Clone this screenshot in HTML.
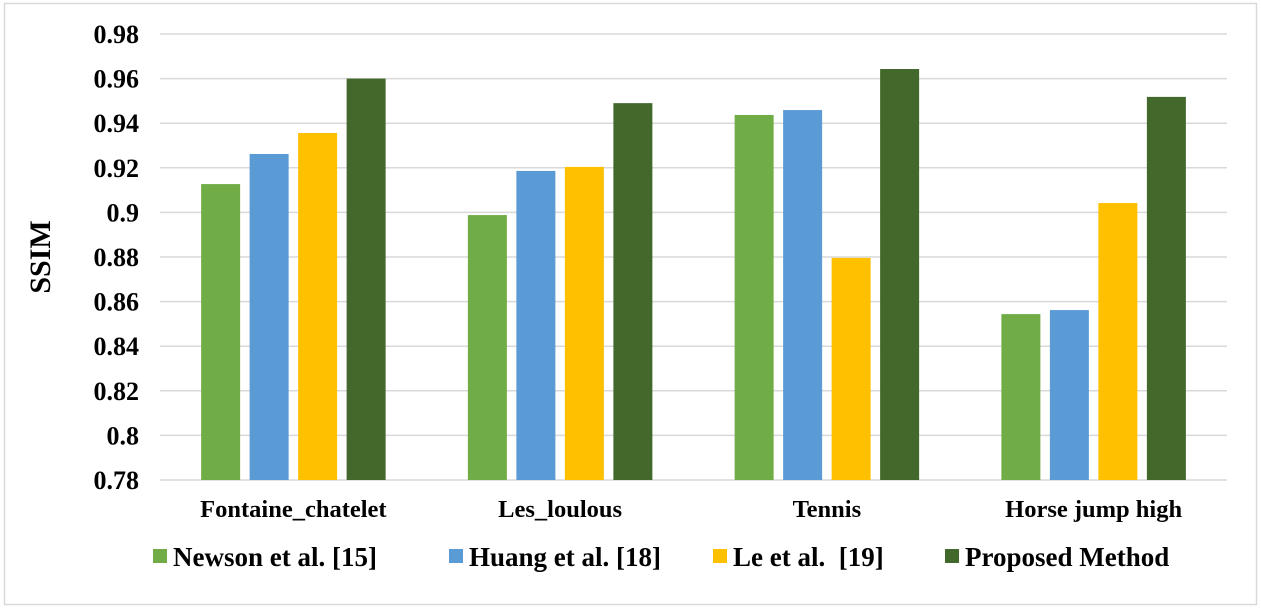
<!DOCTYPE html>
<html><head><meta charset="utf-8"><style>
body{margin:0;background:#fff;}
svg{display:block;font-family:"Liberation Serif",serif;font-weight:bold;}
</style></head><body>
<svg id="chart" width="1261" height="609" xmlns="http://www.w3.org/2000/svg">
<rect x="4.5" y="3.5" width="1252" height="601" fill="#fff" stroke="#d9d9d9" stroke-width="1.5"/>
<g id="grid"></g><g id="bars"></g><g id="axes"></g><g id="legend"></g>
<text transform="translate(50,257) rotate(-90)" text-anchor="middle" font-size="30" fill="#000">SSIM</text>
</svg>
<script>
const categories=["Fontaine_chatelet","Les_loulous","Tennis","Horse jump high"];
const seriesNames=["Newson et al. [15]","Huang et al. [18]","Le et al.  [19]","Proposed Method"];
const newson=[0.9127,0.8988,0.9437,0.8544];
const huang=[0.9262,0.9186,0.9459,0.8562];
const le=[0.9356,0.9204,0.8796,0.9042];
const proposed=[0.960,0.949,0.9643,0.9518];
const yTicks=[0.78,0.8,0.82,0.84,0.86,0.88,0.9,0.92,0.94,0.96,0.98];
const yTickLabels=["0.78","0.8","0.82","0.84","0.86","0.88","0.9","0.92","0.94","0.96","0.98"];
const series=[newson,huang,le,proposed];
const colors=["#70ad47","#5b9bd5","#ffc000","#43682b"];
const NS="http://www.w3.org/2000/svg";
const x0=160,x1=1227,yMin=0.78,yMax=0.98,py0=480,py1=34;
const y=v=>py0-(v-yMin)/(yMax-yMin)*(py0-py1);
const bw=(x1-x0)/categories.length;
const xc=i=>x0+bw*(i+0.5);
function mk(t,a,p){const e=document.createElementNS(NS,t);for(const k in a)e.setAttribute(k,a[k]);p.appendChild(e);return e;}
const grid=document.getElementById('grid'),bars=document.getElementById('bars'),axes=document.getElementById('axes'),leg=document.getElementById('legend');
yTicks.forEach((t,i)=>{
 const l=mk('line',{x1:x0,x2:x1,y1:y(t),y2:y(t),stroke:'#d9d9d9','stroke-width':1.5},grid);
 
 
 const tx=mk('text',{x:139,y:y(t)+9,'text-anchor':'end','font-size':26,fill:'#000'},axes);
 tx.textContent=yTickLabels[i];
 
 
});
const barW=39,step=48.5;
categories.forEach((c,i)=>{
 series.forEach((s,j)=>{
  const bx=xc(i)+(j-1.5)*step-barW/2;
  const r=mk('rect',{x:bx,y:y(s[i]),width:barW,height:py0-y(s[i]),fill:colors[j]},bars);
  
  
 });
 const tx=mk('text',{x:xc(i),y:517,'text-anchor':'middle','font-size':24.5,fill:'#000'},axes);
 tx.textContent=c;
 
 
});
const legX=[153,449,713,945];
seriesNames.forEach((n,j)=>{
 const r=mk('rect',{x:legX[j],y:549,width:14,height:14,fill:colors[j]},leg);
 
 
 const t=mk('text',{x:legX[j]+20,y:566,'font-size':27,fill:'#000'},leg);
 t.textContent=n;
 
 
 t.setAttribute('xml:space','preserve');
 t.style.whiteSpace='pre';
});
</script>
</body></html>
